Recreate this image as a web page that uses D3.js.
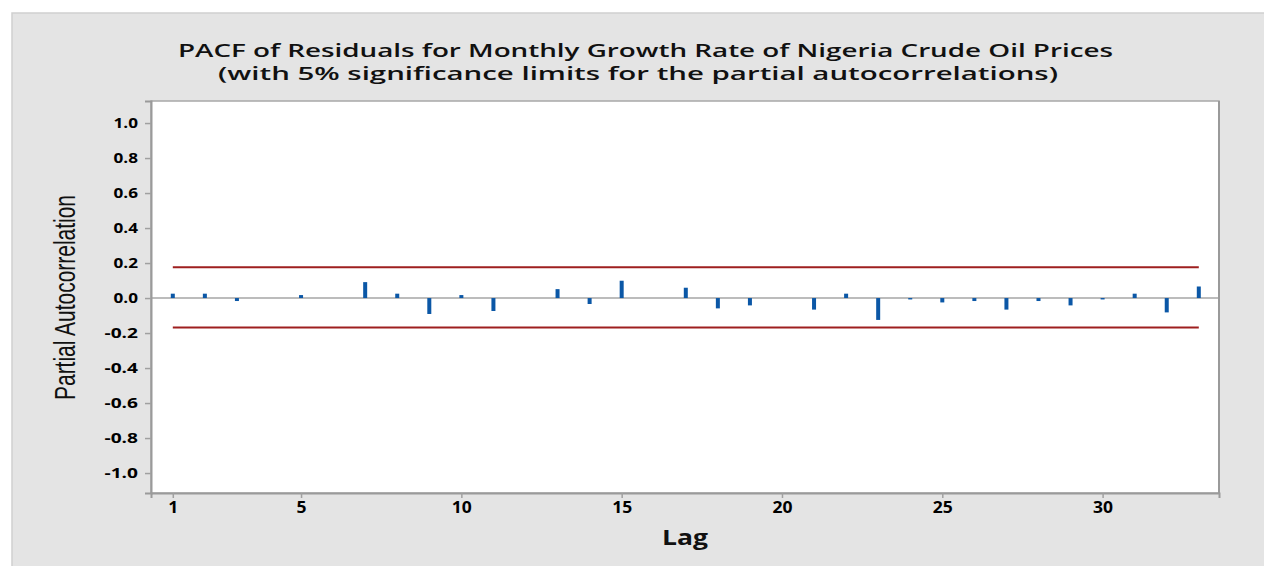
<!DOCTYPE html>
<html>
<head>
<meta charset="utf-8">
<script src="https://cdn.jsdelivr.net/npm/d3@7"></script>
<style>
  body { margin: 0; background: #fff; }
  svg { display: block; }
</style>
</head>
<body>
<svg id="chart" width="1264" height="566"></svg>
<script>
// lags and partial autocorrelations
const lags = d3.range(1, 34);
const pacf = [0.025, 0.025, -0.017, 0.0, 0.017, 0.0, 0.091, 0.025, -0.091, 0.017,
              -0.074, 0.0, 0.051, -0.034, 0.099, 0.0, 0.059, -0.059, -0.042, 0.0,
              -0.066, 0.025, -0.125, -0.008, -0.025, -0.017, -0.066, -0.017, -0.042, -0.008,
              0.025, -0.082, 0.066];
const limits = [0.176, -0.168];
const xTicks = [1, 5, 10, 15, 20, 25, 30];
const yTicks = [-1.0, -0.8, -0.6, -0.4, -0.2, 0.0, 0.2, 0.4, 0.6, 0.8, 1.0];
const titleLines = ['PACF of Residuals for Monthly Growth Rate of Nigeria Crude Oil Prices',
                    '(with 5% significance limits for the partial autocorrelations)'];

const svg = d3.select('#chart');
const plot = { left: 151, right: 1219, top: 101, bottom: 493 };

const x = d3.scaleLinear().domain([0.32, 33.63]).range([plot.left, plot.right]);
const y = d3.scaleLinear().domain([-1.114, 1.126]).range([plot.bottom, plot.top]);

// the original image is widened, so tick labels get a fixed wider length
function widen(sel, digitW) {
    sel.each(function () {
        const s = this.textContent;
        let w = 0;
        for (const c of s) w += c === '.' ? digitW * 0.45 : c === '-' ? digitW * 0.9 : digitW;
        d3.select(this).attr('textLength', w).attr('lengthAdjust', 'spacingAndGlyphs');
    });
}

// outer panel
svg.append('rect')
    .attr('x', 12).attr('y', 13).attr('width', 1264).attr('height', 566)
    .attr('fill', '#e4e4e4').attr('stroke', '#cfcfcf').attr('stroke-width', 1.5);

// plot area
svg.append('rect')
    .attr('x', plot.left).attr('y', plot.top)
    .attr('width', plot.right - plot.left).attr('height', plot.bottom - plot.top)
    .attr('fill', '#fff').attr('stroke', '#a8a8a8').attr('stroke-width', 1.5);

// title
svg.append('g').selectAll('text')
    .data(titleLines)
    .enter()
    .append('text')
    .attr('x', (d, i) => i === 0 ? 645.5 : 638)
    .attr('y', (d, i) => 56.5 + i * 23.5)
    .attr('text-anchor', 'middle')
    .attr('font-family', 'Open Sans')
    .attr('font-weight', 600)
    .attr('font-size', 18.5)
    .attr('fill', '#111')
    .attr('textLength', (d, i) => i === 0 ? 935 : 840)
    .attr('lengthAdjust', 'spacingAndGlyphs')
    .text(d => d);

// zero line
svg.append('line')
    .attr('x1', plot.left).attr('x2', plot.right)
    .attr('y1', y(0)).attr('y2', y(0))
    .attr('stroke', '#a6a6a6').attr('stroke-width', 1.5);

// significance limits
svg.append('g').selectAll('line')
    .data(limits)
    .enter()
    .append('line')
    .attr('x1', x(lags[0])).attr('x2', x(lags[lags.length - 1]))
    .attr('y1', d => y(d)).attr('y2', d => y(d))
    .attr('stroke', '#9e1f1f').attr('stroke-width', 2);

// bars
svg.append('g').selectAll('rect')
    .data(lags.map((l, i) => ({ lag: l, v: pacf[i] })))
    .enter()
    .append('rect')
    .attr('x', d => x(d.lag) - 2)
    .attr('width', 4)
    .attr('y', d => y(Math.max(0, d.v)))
    .attr('height', d => Math.abs(y(d.v) - y(0)))
    .attr('fill', '#0b57a6');

// axes
const fmt = d => d3.format('.1f')(d).replace('\u2212', '-');
const yAxis = svg.append('g')
    .attr('transform', `translate(${plot.left},0)`)
    .call(d3.axisLeft(y).tickValues(yTicks).tickFormat(fmt).tickSize(6).tickPadding(7));
const xAxis = svg.append('g')
    .attr('transform', `translate(0,${plot.bottom})`)
    .call(d3.axisBottom(x).tickValues(xTicks).tickSize(5).tickPadding(4));

[yAxis, xAxis].forEach(a => {
    a.attr('font-family', 'Open Sans');
    a.select('.domain').attr('stroke', '#9a9a9a').attr('stroke-width', 2);
    a.selectAll('.tick line').attr('stroke', '#a0a0a0').attr('stroke-width', 1.5);
    a.selectAll('.tick text')
        .style('font-family', 'Open Sans')
        .style('font-weight', 700)
        .attr('fill', '#000');
});
yAxis.selectAll('.tick text').style('font-size', '14px');
xAxis.selectAll('.tick text').style('font-size', '16px');
widen(yAxis.selectAll('.tick text'), 10);
widen(xAxis.selectAll('.tick text'), 10);

// right border drawn heavier
svg.append('line')
    .attr('x1', plot.right).attr('x2', plot.right)
    .attr('y1', plot.top).attr('y2', plot.bottom)
    .attr('stroke', '#9a9a9a').attr('stroke-width', 2);

// axis titles
svg.append('text')
    .attr('x', (plot.left + plot.right) / 2)
    .attr('y', 545)
    .attr('text-anchor', 'middle')
    .attr('font-family', 'Open Sans')
    .attr('font-weight', 700)
    .attr('font-size', 21)
    .attr('fill', '#111')
    .attr('textLength', 46)
    .attr('lengthAdjust', 'spacingAndGlyphs')
    .text('Lag');

svg.append('text')
    .attr('transform', 'translate(75,297.5) rotate(-90)')
    .attr('text-anchor', 'middle')
    .attr('font-family', 'Liberation Sans')
    .attr('font-size', 30)
    .attr('fill', '#111')
    .attr('textLength', 205)
    .attr('lengthAdjust', 'spacingAndGlyphs')
    .text('Partial Autocorrelation');
</script>
</body>
</html>
